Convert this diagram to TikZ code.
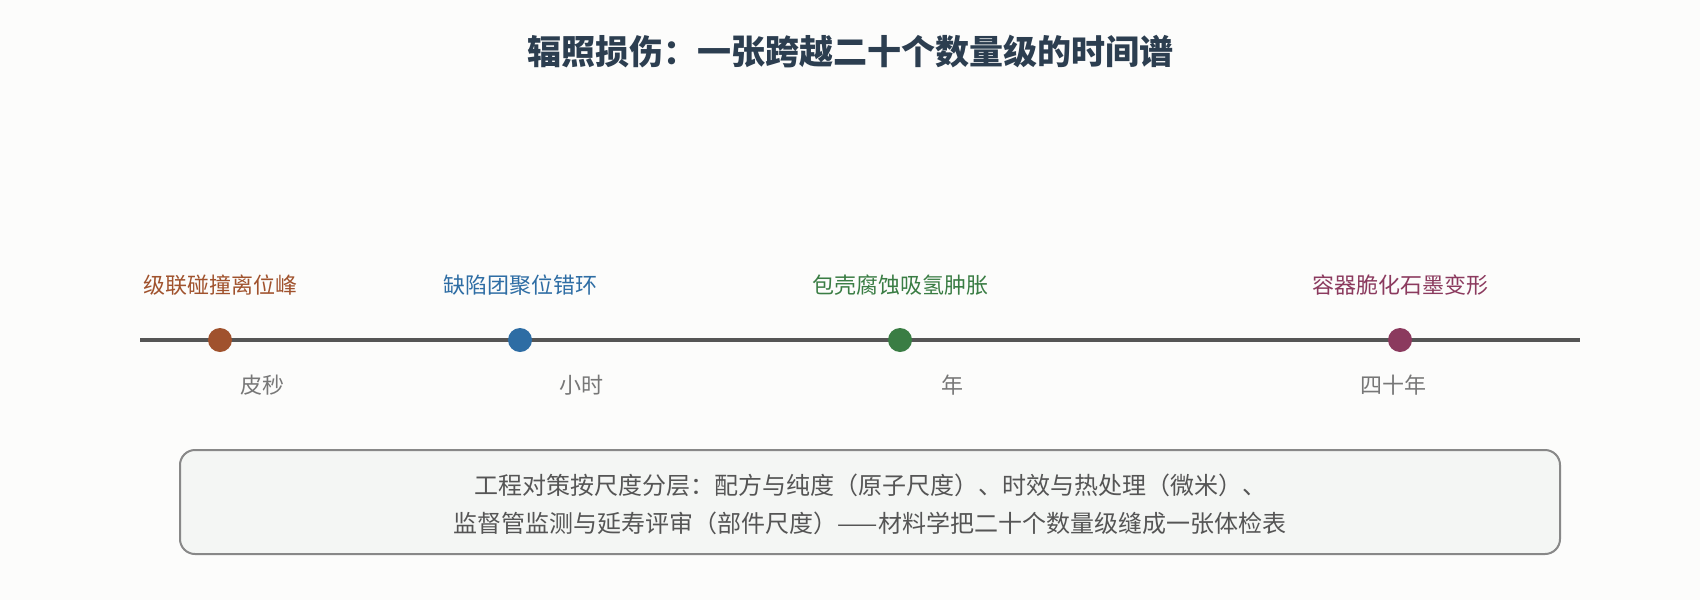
\documentclass[tikz,border=0pt]{standalone}
\usepackage{fontspec}
\setmainfont{Noto Sans CJK SC}
\definecolor{bgcol}{HTML}{FCFCFB}
\definecolor{titlecol}{HTML}{2C3E50}
\definecolor{axiscol}{HTML}{555555}
\definecolor{cascadecol}{HTML}{A0522D}
\definecolor{clustercol}{HTML}{2E6DA4}
\definecolor{corrosioncol}{HTML}{3A7D44}
\definecolor{embrittlecol}{HTML}{8B3A5E}
\definecolor{timecol}{HTML}{777777}
\definecolor{boxedge}{HTML}{888888}
\definecolor{boxfill}{HTML}{F4F6F4}
\definecolor{boxtext}{HTML}{555555}
\begin{document}
\begin{tikzpicture}[x=1pt,y=-1pt,
		evlabel/.style={inner sep=0pt,font=\fontsize{22}{26}\selectfont},
		timelabel/.style={inner sep=0pt,text=timecol,font=\fontsize{22}{26}\selectfont},
		evdot/.style={circle,inner sep=0pt,minimum size=24pt},
		notetext/.style={inner sep=0pt,text=boxtext,font=\fontsize{24}{28}\selectfont}]
			\fill[bgcol] (0,0) rectangle (1700,600);
			\useasboundingbox (0,0) rectangle (1700,600);
			% title
			\node[inner sep=0pt,text=titlecol,font=\fontsize{34}{40}\selectfont\bfseries] (title) at (850,52) {辐照损伤：一张跨越二十个数量级的时间谱};
			% time axis
			\coordinate (axl) at (140,340);
			\coordinate (axr) at (1580,340);
			\draw[axiscol,line width=3.5pt] (axl) -- (axr);
			\node[evdot,fill=cascadecol] (cascade) at (220,340) {};
			\node[evdot,fill=clustercol] (cluster) at (520,340) {};
			\node[evdot,fill=corrosioncol] (corrosion) at (900,340) {};
			\node[evdot,fill=embrittlecol] (embrittle) at (1400,340) {};
			\node[evlabel,text=cascadecol] (cascadelab) at (220,285) {级联碰撞离位峰};
			\node[evlabel,text=clustercol] (clusterlab) at (520,285) {缺陷团聚位错环};
			\node[evlabel,text=corrosioncol] (corrosionlab) at (900,285) {包壳腐蚀吸氢肿胀};
			\node[evlabel,text=embrittlecol] (embrittlelab) at (1400,285) {容器脆化石墨变形};
			% time scales
			\node[timelabel] (ps) at (262,385) {皮秒};
			\node[timelabel] (hour) at (581,385) {小时};
			\node[timelabel] (year) at (952,385) {年};
			\node[timelabel] (decades) at (1393,385) {四十年};
			% summary box
			\draw[boxedge,fill=boxfill,line width=2pt,rounded corners=15pt] (180,450) rectangle (1560,554);
			\node[notetext] (note1) at (870,485) {工程对策按尺度分层：配方与纯度（原子尺度）、时效与热处理（微米）、};
			\node[notetext] (note2) at (870,523) {监督管监测与延寿评审（部件尺度）——材料学把二十个数量级缝成一张体检表};
		\end{tikzpicture}
\end{document}
